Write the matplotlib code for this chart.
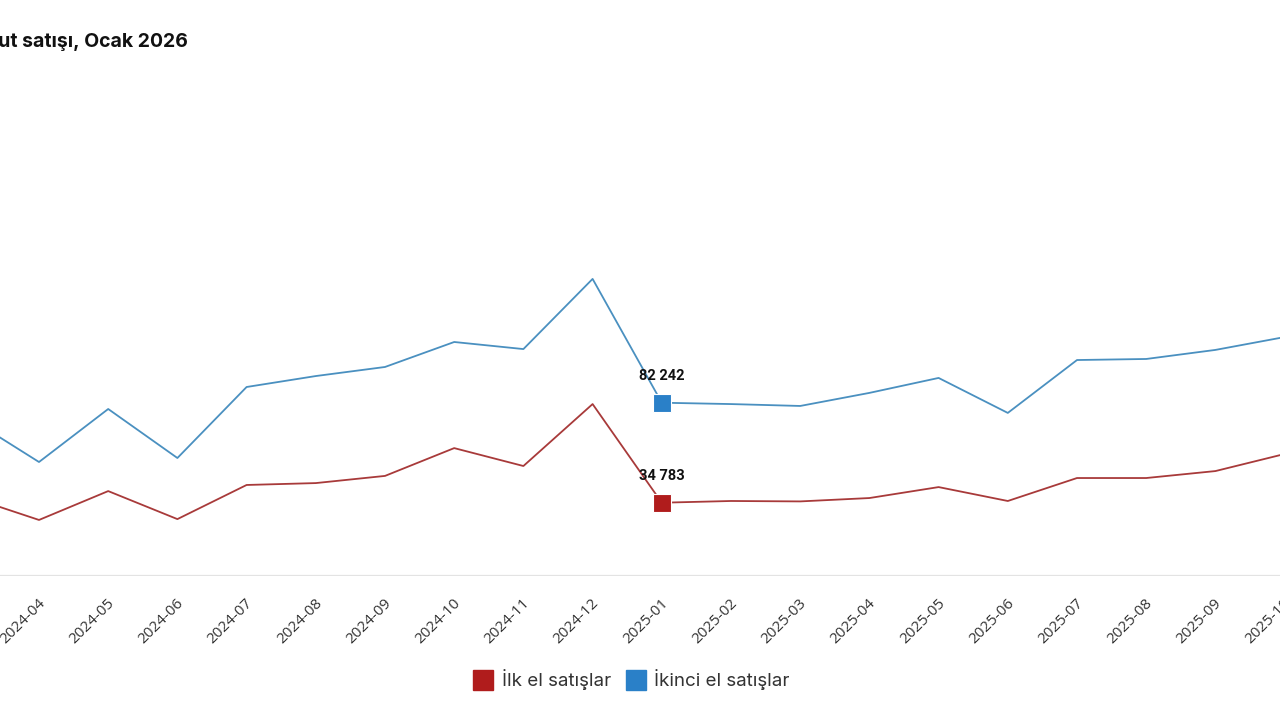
import matplotlib
matplotlib.use("Agg")
import matplotlib.pyplot as plt
from matplotlib.lines import Line2D

months = ["2024-03", "2024-04", "2024-05", "2024-06", "2024-07", "2024-08", "2024-09",
          "2024-10", "2024-11", "2024-12", "2025-01", "2025-02", "2025-03", "2025-04",
          "2025-05", "2025-06", "2025-07", "2025-08", "2025-09", "2025-10"]
ilk_el = [37500, 26600, 40300, 27000, 43200, 44100, 47500, 60700, 52200, 81600,
          34783, 35600, 35400, 37000, 42200, 35600, 46500, 46500, 49800, 57900]
ikinci_el = [74750, 54100, 79260, 56000, 89700, 94900, 99200, 111060, 107700, 141000,
             82242, 81600, 80700, 86900, 94000, 77400, 102500, 103000, 107300, 113400]
title = "Konut satışı, Ocak 2026"
labels = ["İlk el satışlar", "İkinci el satışlar"]
highlight = "2025-01"

red_line, red_mark = "#a83a3a", "#b01c1c"
blue_line, blue_mark = "#4a90c0", "#2a80c8"

W, H = 1280, 720
fig = plt.figure(figsize=(12.8, 7.2), dpi=100)
# axes span full width; bottom at pixel 576, top at pixel 80
ax = fig.add_axes([0, (H - 576) / H, 1, (576 - 80) / H])
x = list(range(len(months)))

ax.plot(x, ilk_el, color=red_line, lw=1.3, zorder=3)
ax.plot(x, ikinci_el, color=blue_line, lw=1.3, zorder=3)

hi = months.index(highlight)
for vals, mc in [(ilk_el, red_mark), (ikinci_el, blue_mark)]:
    ax.plot([hi], [vals[hi]], marker="s", ms=13, color=mc, mec="white", mew=0.8, zorder=4)
    ax.annotate(f"{vals[hi]:,}".replace(",", " "), (hi, vals[hi]), xytext=(0, 27),
                textcoords="offset pixels", ha="center", va="center",
                fontsize=10.5, fontweight="bold", family="Roboto", color="#111111", zorder=5)

ax.axhline(0, color="#e3e3e3", lw=1.6, zorder=1)
for s in ax.spines.values():
    s.set_visible(False)
ax.set_yticks([])
ax.set_xticks([])
for i, m in enumerate(months):
    ax.annotate(m, (i, 0), xytext=(4, -25), textcoords="offset pixels",
                rotation=45, ha="right", va="center", rotation_mode="anchor",
                fontsize=11, family="Open Sans", color="#333333", annotation_clip=False)

step = 69.2
x0px = -30.2
ax.set_xlim(-x0px / step, (W - x0px) / step)
ax.set_ylim(0, (576 - 80) * 474.6)

fig.text(188 / W, 1 - 42 / H, title, ha="right", va="center", fontsize=14,
         fontweight="bold", family="Inter", color="#111111")

handles = [Line2D([], [], marker="s", ls="none", ms=14, color=red_mark),
           Line2D([], [], marker="s", ls="none", ms=14, color=blue_mark)]
leg = fig.legend(handles, labels, loc="center", bbox_to_anchor=(632 / W, 1 - 680 / H),
                 ncol=2, frameon=False, prop={"family": "Inter", "size": 13.5},
                 handlelength=1.0, handletextpad=0.5, columnspacing=0.8)
for t in leg.get_texts():
    t.set_color("#333333")

fig.savefig("out.png", dpi=100)
